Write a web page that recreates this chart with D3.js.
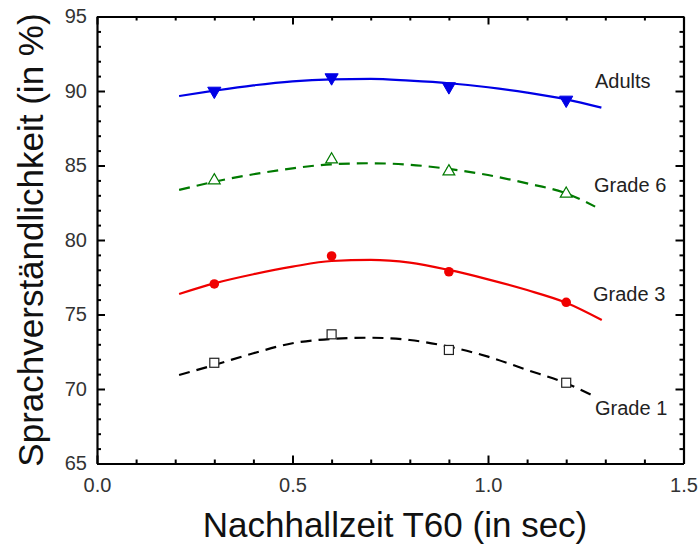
<!DOCTYPE html>
<html>
<head>
<meta charset="utf-8">
<script src="https://cdn.jsdelivr.net/npm/d3@7"></script>
<style>
	body { margin: 0; background: #fff; }
	svg { font-family: "Liberation Sans", Arial, sans-serif; }
</style>
</head>
<body>
<div id="chart"></div>
<script>
// measured points (T60 in sec)
const xPoints = [0.3, 0.6, 0.9, 1.2];
const adults = [90.0, 90.9, 90.3, 89.4];
const grade6 = [84.0, 85.4, 84.6, 83.1];
const grade3 = [77.05, 78.93, 77.87, 75.82];
const grade1 = [71.76, 73.67, 72.62, 70.42];

// fit curves
const fitX = [0.21, 0.3, 0.4, 0.5, 0.6, 0.7, 0.8, 0.9, 1.0, 1.1, 1.2];
const adultsFit = [89.66, 90.02, 90.38, 90.65, 90.78, 90.81, 90.69, 90.52, 90.25, 89.89, 89.44];
const grade6Fit = [83.36, 83.91, 84.41, 84.81, 85.08, 85.15, 85.05, 84.77, 84.36, 83.8, 83.13];
const grade3Fit = [76.38, 77.09, 77.7, 78.21, 78.59, 78.66, 78.48, 77.99, 77.36, 76.64, 75.79];
const grade1Fit = [70.94, 71.61, 72.4, 73.07, 73.36, 73.44, 73.29, 72.84, 72.17, 71.28, 70.38];
const fitEnd = { adults: [1.29, 88.88], grade6: [1.274, 82.24], grade3: [1.291, 74.63], grade1: [1.274, 69.48] };

const xTicks = [0, 0.5, 1.0, 1.5];
const yTicks = [65, 70, 75, 80, 85, 90, 95];

const width = 700;
const height = 545;
const margin = {top: 16.5, right: 16.5, bottom: 81.5, left: 97};

const svg = d3.select('#chart').append('svg')
	.attr('width', width)
	.attr('height', height);

const x = d3.scaleLinear().domain([0, 1.5]).range([margin.left, width - margin.right]);
const y = d3.scaleLinear().domain([65, 95]).range([height - margin.bottom, margin.top]);

const minorX = d3.range(0, 1.5001, 0.1).filter(v => Math.abs(v * 2 - Math.round(v * 2)) > 1e-6);
const minorY = d3.range(65, 95.001, 1).filter(v => v % 5 !== 0);

const drawAxis = (axisFn, scale, transform, major, minor, labels, fmt, pad) => {
	const gMinor = svg.append('g')
		.attr('transform', transform)
		.call(axisFn(scale).tickValues(minor).tickSize(-4).tickFormat(''));
	gMinor.select('.domain').remove();
	gMinor.selectAll('line').attr('stroke', '#000').attr('stroke-width', 2);

	const g = svg.append('g')
		.attr('transform', transform)
		.call(axisFn(scale).tickValues(major).tickSize(-8).tickSizeOuter(0).tickPadding(pad)
			.tickFormat(labels ? fmt : ''));
	g.select('.domain').attr('stroke', '#000').attr('stroke-width', 2.2);
	g.selectAll('line').attr('stroke', '#000').attr('stroke-width', 2);
	g.selectAll('text')
		.style('font-size', '20px')
		.style('font-family', '"Liberation Sans", Arial, sans-serif')
		.attr('fill', '#333');
	return g;
};

const bottom = height - margin.bottom;
const right = width - margin.right;
drawAxis(d3.axisBottom, x, `translate(0,${bottom})`, xTicks, minorX, true, d3.format('.1f'), 14);
drawAxis(d3.axisTop, x, `translate(0,${margin.top})`, xTicks, minorX, false, null, 0);
drawAxis(d3.axisLeft, y, `translate(${margin.left},0)`, yTicks, minorY, true, d3.format('d'), 10);
drawAxis(d3.axisRight, y, `translate(${right},0)`, yTicks, minorY, false, null, 0);

// axis titles
svg.append('text')
	.attr('x', 395)
	.attr('y', 537)
	.attr('text-anchor', 'middle')
	.style('font-size', '35px')
	.attr('fill', '#111')
	.text('Nachhallzeit T60 (in sec)');

svg.append('text')
	.attr('transform', `translate(43,${(margin.top + bottom) / 2}) rotate(-90)`)
	.attr('text-anchor', 'middle')
	.style('font-size', '35px')
	.attr('fill', '#111')
	.text('Sprachverständlichkeit (in %)');

const line = d3.line()
	.x(d => x(d[0]))
	.y(d => y(d[1]))
	.curve(d3.curveMonotoneX);

const series = [
	{name: 'Adults', pts: adults, fit: adultsFit, end: fitEnd.adults, color: '#0000e6', dash: null, marker: 'down', label: [595, 88]},
	{name: 'Grade 6', pts: grade6, fit: grade6Fit, end: fitEnd.grade6, color: '#007a00', dash: '11,7', marker: 'up', label: [594, 192]},
	{name: 'Grade 3', pts: grade3, fit: grade3Fit, end: fitEnd.grade3, color: '#f00000', dash: null, marker: 'circle', label: [593, 301]},
	{name: 'Grade 1', pts: grade1, fit: grade1Fit, end: fitEnd.grade1, color: '#000', dash: '11,7', marker: 'square', label: [595, 415]}
];

series.forEach(s => {
	const fitData = fitX.map((v, i) => [v, s.fit[i]]).concat([s.end]);
	svg.append('path')
		.datum(fitData)
		.attr('d', line)
		.attr('fill', 'none')
		.attr('stroke', s.color)
		.attr('stroke-width', 2.2)
		.attr('stroke-dasharray', s.dash);

	const pts = xPoints.map((v, i) => [v, s.pts[i]]);
	const g = svg.append('g');
	if (s.marker === 'circle') {
		g.selectAll('circle').data(pts).enter().append('circle')
			.attr('cx', d => x(d[0]))
			.attr('cy', d => y(d[1]))
			.attr('r', 4.8)
			.attr('fill', s.color);
	} else if (s.marker === 'square') {
		g.selectAll('rect').data(pts).enter().append('rect')
			.attr('x', d => x(d[0]) - 4.5)
			.attr('y', d => y(d[1]) - 4.5)
			.attr('width', 9)
			.attr('height', 9)
			.attr('fill', '#fff')
			.attr('stroke', '#222')
			.attr('stroke-width', 1.2);
	} else {
		const down = s.marker === 'down';
		const tri = d3.symbol().type(d3.symbolTriangle).size(down ? 75 : 60);
		g.selectAll('path').data(pts).enter().append('path')
			.attr('d', tri)
			.attr('transform', d => `translate(${x(d[0])},${y(d[1])})${down ? ' rotate(180)' : ''}`)
			.attr('fill', down ? s.color : '#fff')
			.attr('stroke', s.color)
			.attr('stroke-width', down ? 1 : 1.2);
	}

	svg.append('text')
		.attr('x', s.label[0])
		.attr('y', s.label[1])
		.style('font-size', '20px')
		.attr('fill', '#222')
		.text(s.name);
});
</script>
</body>
</html>
